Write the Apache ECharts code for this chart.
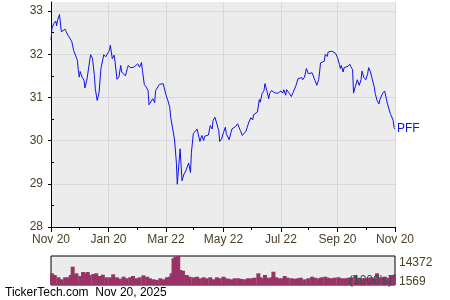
<!DOCTYPE html>
<html><head><meta charset="utf-8">
<script src="https://cdn.jsdelivr.net/npm/echarts@6/dist/echarts.min.js"></script>
<style>html,body{margin:0;padding:0;background:#fff}#c{width:450px;height:300px}</style>
</head><body><div id="c"></div>
<script>
const seriesName = 'PFF';
const majorTickDays = [0, 61, 122, 183, 244, 304, 365];
const majorTickLabels = ['Nov 20', 'Jan 20', 'Mar 22', 'May 22', 'Jul 22', 'Sep 20', 'Nov 20'];
const minorTickDays = [30, 92, 151, 212, 273, 334];
const priceTicks = [28, 29, 30, 31, 32, 33];
const priceMinorTicks = [28.5, 29.5, 30.5, 31.5, 32.5];
const volumeTicks = [1569, 14372];

const priceDays = [
  0,1,3,5,6,7,9,11,13,15,
  16,18,20,22,24,26,28,29,30,31,
  33,35,36,38,40,42,44,46,47,49,
  51,53,54,56,58,60,62,63,65,67,
  68,70,72,74,75,77,79,81,82,84,
  86,88,89,92,94,96,97,99,101,103,
  104,106,108,110,111,113,115,117,119,120,
  122,124,126,127,129,131,133,134,136,137,
  139,141,143,144,146,148,149,151,153,155,
  156,158,160,162,163,165,167,169,171,172,
  174,176,178,179,181,183,185,186,188,189,
  191,192,194,196,198,199,201,203,205,207,
  208,210,212,214,215,217,219,221,222,224,
  226,227,229,231,232,234,236,238,239,241,
  243,244,246,247,249,250,252,253,255,257,
  259,260,262,264,266,267,269,271,273,275,
  277,278,280,282,284,285,286,288,290,291,
  293,294,296,298,300,302,304,306,307,308,
  310,311,313,315,317,318,320,321,323,325,
  327,329,330,332,334,336,337,339,341,343,
  344,346,348,349,350,352,354,355,357,358,
  360,361,363,364,365
];
const prices = [
  32.33,32.60,32.71,32.77,32.66,32.79,32.92,32.52,32.53,32.58,
  32.53,32.44,32.44,32.30,32.09,32.11,31.86,31.63,31.47,31.60,
  31.47,31.40,31.22,31.40,31.42,31.99,31.91,31.51,31.20,30.93,
  31.11,31.67,31.70,31.99,31.94,31.98,32.09,32.21,31.90,31.98,
  31.82,31.42,31.47,31.74,31.59,31.60,31.50,31.67,31.74,31.69,
  31.65,31.70,31.67,31.78,31.70,31.81,31.63,31.30,31.24,31.16,
  30.83,30.83,30.97,30.88,31.16,31.20,31.30,31.26,31.32,31.30,
  31.06,30.93,30.77,30.54,30.56,30.04,29.50,28.99,29.03,29.81,
  29.07,29.22,29.30,29.26,29.48,29.26,29.73,30.16,30.18,30.27,
  30.29,29.98,30.12,30.00,30.10,30.12,30.13,30.35,30.27,30.47,
  30.54,30.52,30.23,29.98,30.04,30.19,30.31,30.16,30.18,30.02,
  30.19,30.27,30.23,30.33,30.39,30.35,30.23,30.12,30.16,30.22,
  30.30,30.43,30.53,30.48,30.60,30.63,30.66,30.95,30.89,31.09,
  31.16,31.32,31.16,30.97,31.09,31.16,31.12,31.10,31.07,31.10,
  31.09,31.15,31.10,31.18,31.05,31.18,31.12,31.16,31.02,31.12,
  31.10,31.28,31.43,31.40,31.46,31.41,31.47,31.67,31.55,31.59,
  31.57,31.55,31.40,31.28,31.41,31.59,31.80,31.77,31.84,32.00,
  31.95,32.05,32.07,32.07,32.08,32.02,31.92,31.77,31.67,31.74,
  31.59,31.69,31.67,31.72,31.77,31.72,31.64,31.10,31.26,31.41,
  31.28,31.41,31.61,31.46,31.41,31.55,31.69,31.59,31.41,31.24,
  31.09,30.93,30.85,30.95,30.91,31.10,31.15,31.12,30.85,30.81,
  30.63,30.58,30.47,30.30,30.27
];

const volDays = [
  1,2,4,8,11,15,18,21,23,24,27,31,34,36,39,41,45,48,52,55,
  59,63,66,70,73,77,80,84,87,91,94,98,102,105,109,112,116,119,123,126,
  128,130,132,133,135,137,139,140,144,147,151,155,158,162,165,169,172,176,179,183,
  185,188,192,195,199,202,206,209,213,216,220,222,224,227,229,231,234,236,239,242,
  245,248,251,255,258,262,265,269,273,277,280,284,287,291,294,298,301,305,308,312,
  316,319,323,326,330,333,337,340,343,346,349,351,354,358,361,363,365
];
const volumes = [
  5800,4110,4960,3820,2820,3820,3820,4960,9070,4960,5800,4460,6440,5800,6440,4960,5450,5800,4460,5100,
  3820,3820,5300,3820,3120,4110,3320,3820,4460,3320,3820,4810,4110,3320,2820,2480,3320,2820,3820,4110,
  5800,13230,14030,9910,14372,7430,6590,7090,4960,4110,3820,4110,3320,3820,3320,3820,2820,3820,3320,4110,
  3320,3120,2820,3320,3320,2980,2820,3320,3320,3620,5800,3820,3320,4960,3620,3320,3820,6590,3820,3320,
  3320,4460,3620,3320,3120,3320,3620,2820,3320,4110,3620,3320,3820,4110,3620,3320,3620,3820,3320,3320,
  3620,3820,4960,3620,3320,3320,3620,3820,3320,5800,3620,3820,4110,3620,4960,4960,5200
];

const textColor = '#4a3f22';
const font = '"Liberation Sans", Arial, sans-serif';
const chart = echarts.init(document.getElementById('c'), null, {renderer: 'canvas'});
chart.setOption({
  animation: false,
  textStyle: {fontFamily: font},
  title: [
    {text: 'TickerTech.com  Nov 20, 2025', left: 0, top: 282, z: 10, textStyle: {fontSize: 12, fontWeight: 'normal', color: '#000', fontFamily: font}},
    {text: "(1000's)", left: 344, top: 270, z: 10, textStyle: {fontSize: 12, fontWeight: 'normal', color: '#2f5050', fontFamily: font}}
  ],
  grid: [
    {left: 51, top: 2, width: 344, height: 225, show: true, backgroundColor: '#ececec', borderWidth: 0},
    {left: 51, top: 256, width: 344, height: 29, show: true, backgroundColor: '#ececec', borderColor: '#000', borderWidth: 1}
  ],
  xAxis: [
    {gridIndex: 0, type: 'value', min: 0, max: 365,
      axisLine: {lineStyle: {color: '#000', width: 1}},
      axisTick: {customValues: majorTickDays, length: 5, lineStyle: {color: '#000'}},
      axisLabel: {customValues: majorTickDays, formatter: v => majorTickLabels[majorTickDays.indexOf(v)], fontSize: 12, color: textColor, margin: 7, fontFamily: font},
      splitLine: {show: true, lineStyle: {color: '#d8d8d8'}}},
    {gridIndex: 0, type: 'value', min: 0, max: 365, position: 'bottom',
      axisLine: {show: false},
      axisTick: {customValues: minorTickDays, length: 3, lineStyle: {color: '#000'}},
      axisLabel: {show: false}, splitLine: {show: false}},
    {gridIndex: 1, type: 'value', min: 0, max: 365, show: false}
  ],
  yAxis: [
    {gridIndex: 0, type: 'value', min: 28, max: 33.21,
      axisLine: {show: true, lineStyle: {color: '#000'}},
      axisTick: {customValues: priceTicks, length: 3, lineStyle: {color: '#000'}},
      axisLabel: {customValues: priceTicks, fontSize: 12, color: textColor, margin: 8, fontFamily: font},
      splitLine: {show: true, lineStyle: {color: '#d8d8d8'}}},
    {gridIndex: 0, type: 'value', min: 28, max: 33.21, position: 'left',
      axisLine: {show: false},
      axisTick: {customValues: priceMinorTicks, inside: true, length: 3, lineStyle: {color: '#000'}},
      axisLabel: {show: false}, splitLine: {show: false}},
    {gridIndex: 1, type: 'value', min: 0, max: 14372, position: 'right',
      axisLine: {show: false}, axisTick: {show: false}, splitLine: {show: false},
      axisLabel: {customValues: volumeTicks, fontSize: 12, color: textColor, margin: 4, fontFamily: font,
        formatter: v => v === 14372 ? '{a|' + v + '}' : String(v),
        rich: {a: {fontSize: 12, color: textColor, padding: [14, 0, 0, 0], fontFamily: font}}}}
  ],
  series: [
    {type: 'line', name: seriesName, xAxisIndex: 0, yAxisIndex: 0,
      data: priceDays.map((d, i) => [d, prices[i]]),
      symbol: 'none', lineStyle: {color: '#1010ee', width: 1}, itemStyle: {color: '#1010ee'},
      endLabel: {show: true, formatter: seriesName, color: '#1010ee', fontSize: 12, distance: 2, fontFamily: font}},
    {type: 'bar', xAxisIndex: 2, yAxisIndex: 2,
      data: volDays.map((d, i) => [d, volumes[i]]),
      barWidth: 4, itemStyle: {color: '#993366'}}
  ]
});
</script></body></html>
